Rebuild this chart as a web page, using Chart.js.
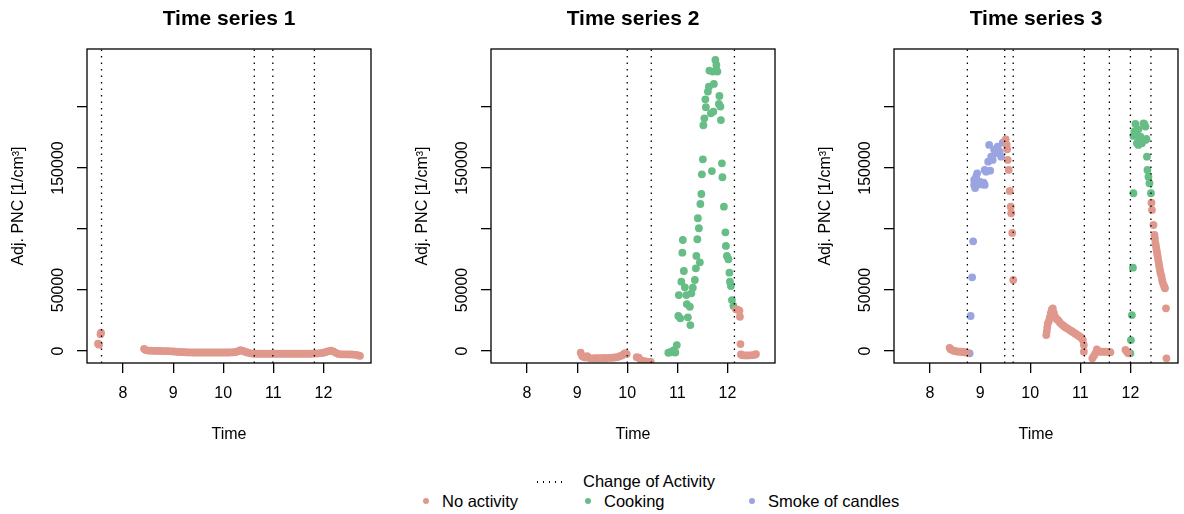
<!DOCTYPE html>
<html>
<head>
<meta charset="utf-8">
<script src="https://cdn.jsdelivr.net/npm/chart.js@4.4.1/dist/chart.umd.min.js"></script>
<style>
  html, body { margin: 0; padding: 0; background: #fff; overflow: hidden; }
  body { width: 1184px; height: 514px; position: relative; font-family: "Liberation Sans", Arial, sans-serif; }
  canvas { position: absolute; top: 0; }
  .leg { position: absolute; font-size: 16.5px; line-height: 20px; color: #000; white-space: nowrap; }
  .dot { position: absolute; width: 6px; height: 6px; border-radius: 50%; }
  .dots { position: absolute; height: 1.5px; width: 30px;
          background: repeating-linear-gradient(to right, #000 0 1.5px, transparent 1.5px 6px); }
</style>
</head>
<body>
<canvas id="p1" width="377" height="450" style="left:0px"></canvas>
<canvas id="p2" width="377" height="450" style="left:404px"></canvas>
<canvas id="p3" width="377" height="450" style="left:807px"></canvas>
<div id="legend"></div>
<script>
// categories and colours
const categories = ['No activity', 'Cooking', 'Smoke of candles'];
const catColors = ['#E0988D', '#66BD86', '#9AA4E0'];
const panelTitles = ['Time series 1', 'Time series 2', 'Time series 3'];

// axis ranges / ticks
const X_MIN = 7.28, X_MAX = 12.95;
const Y_MIN = -9800, Y_MAX = 247500;
const xTicks = [8, 9, 10, 11, 12];
const yTicks = [0, 50000, 100000, 150000, 200000];
const yTickLabels = ['0', '50000', '', '150000', ''];

// times where the activity changes (dotted lines)
const changes1 = [7.57, 10.62, 10.99, 11.82];
const changes2 = [10.0, 10.48, 12.14];
const changes3 = [8.745, 9.49, 9.66, 11.08, 11.58, 12.0, 12.41];

// Time series 1 : [time (h), adj. PNC]
const ts1None = [
  [7.50, 6000], [7.52, 5200], [7.55, 13800], [7.56, 15000],
  [8.42, 1800], [8.45, 800], [8.50, 400], [8.55, 300], [8.60, 200], [8.65, 200], [8.70, 100],
  [8.75, 100], [8.80, 0], [8.85, 0], [8.90, -100], [8.95, -200], [9.00, -300], [9.05, -500],
  [9.10, -700], [9.15, -800], [9.20, -900], [9.25, -1000], [9.30, -1100], [9.35, -1100],
  [9.40, -1200], [9.45, -1200], [9.50, -1200], [9.55, -1200], [9.60, -1200], [9.65, -1200],
  [9.70, -1200], [9.75, -1200], [9.80, -1200], [9.85, -1200], [9.90, -1200], [9.95, -1200],
  [10.00, -1200], [10.05, -1200], [10.10, -1200], [10.15, -1100], [10.20, -1000], [10.25, -800],
  [10.30, -100], [10.34, 700], [10.38, 300], [10.42, -300], [10.46, -900], [10.50, -1400],
  [10.55, -1900], [10.60, -2300], [10.65, -2200], [10.70, -2200], [10.75, -2200], [10.80, -2200],
  [10.85, -2200], [10.90, -2200], [10.95, -2200], [11.00, -2200], [11.05, -2200], [11.10, -2200],
  [11.15, -2200], [11.20, -2200], [11.25, -2200], [11.30, -2200], [11.35, -2200], [11.40, -2200],
  [11.45, -2200], [11.50, -2200], [11.55, -2200], [11.60, -2200], [11.65, -2200], [11.70, -2200],
  [11.75, -2200], [11.80, -2100], [11.85, -2000], [11.90, -1900], [11.95, -1700], [12.00, -1400],
  [12.05, -800], [12.10, -100], [12.15, 300], [12.20, -300], [12.25, -1500], [12.30, -2400],
  [12.35, -2700], [12.40, -2700], [12.45, -2700], [12.50, -2800], [12.55, -2800], [12.60, -2900],
  [12.65, -3100], [12.70, -3600], [12.73, -3900]
];

// Time series 2
const ts2None = [
  [9.07, -1400], [9.10, -4000], [9.13, -4800], [9.17, -5200], [9.20, -4200], [9.25, -5800],
  [9.30, -6000], [9.35, -5900], [9.40, -5900], [9.45, -5800], [9.50, -5800], [9.55, -5700],
  [9.60, -5800], [9.65, -5600], [9.70, -5500], [9.75, -5300], [9.80, -5000], [9.85, -4200],
  [9.90, -3500], [9.93, -2500], [9.96, -1800], [9.99, -2500],
  [10.19, -5000], [10.23, -5500], [10.27, -7500], [10.32, -8000], [10.37, -8500], [10.42, -8800],
  [10.47, -9000],
  [12.17, 34200], [12.20, 34000], [12.24, 33000], [12.25, 28100], [12.26, 5700], [12.27, -2800],
  [12.30, -3400], [12.35, -3600], [12.40, -3600], [12.45, -3500], [12.50, -3400], [12.55, -3000],
  [12.57, -2500]
];
const ts2Cook = [
  [10.82, -1400], [10.86, -1000], [10.89, -600], [10.93, 800], [10.96, -1200], [10.99, 4900],
  [11.02, 28700], [11.03, 45900], [11.06, 26800], [11.08, 56800], [11.10, 80600], [11.11, 91000],
  [11.13, 65600], [11.15, 52200], [11.18, 45900], [11.19, 38500], [11.21, 27600], [11.25, 36300],
  [11.26, 21300], [11.28, 47300], [11.31, 51900], [11.35, 58200], [11.37, 67800], [11.38, 77900],
  [11.40, 91600], [11.41, 108800], [11.43, 100600], [11.45, 72700], [11.46, 120500], [11.48, 128700],
  [11.49, 144800], [11.51, 157100], [11.52, 185000], [11.54, 190700], [11.56, 206300], [11.57, 199800],
  [11.61, 212600], [11.63, 216600], [11.64, 229800], [11.67, 194800], [11.69, 147500], [11.71, 229000],
  [11.72, 196200], [11.73, 218900], [11.76, 238500], [11.78, 234400], [11.78, 230300], [11.80, 229000],
  [11.83, 202500], [11.84, 209000], [11.86, 200300], [11.87, 189300], [11.89, 153800], [11.90, 142400],
  [11.93, 118300], [11.96, 97300], [11.97, 86100], [11.99, 77900], [12.02, 75200], [12.04, 64200],
  [12.05, 56800], [12.07, 53300], [12.09, 41800], [12.12, 36900]
];

// Time series 3
const ts3None = [
  [8.39, 2600], [8.41, 1500], [8.44, 800], [8.47, 300], [8.50, 0], [8.54, -300], [8.58, -500],
  [8.62, -600], [8.66, -800], [8.70, -1000], [8.74, -1300],
  [9.51, 173500], [9.53, 169000], [9.54, 165300], [9.55, 156600], [9.57, 148400], [9.59, 131200],
  [9.61, 118300], [9.62, 112900], [9.64, 96800], [9.66, 58200],
  [10.32, 13100], [10.33, 16000], [10.34, 19500], [10.35, 22500], [10.37, 24500], [10.39, 27500],
  [10.41, 31000], [10.43, 34000], [10.45, 35000], [10.47, 31500], [10.49, 28500], [10.52, 26500],
  [10.55, 25500], [10.58, 24000], [10.61, 22500], [10.64, 21500], [10.67, 20500], [10.70, 19500],
  [10.73, 18800], [10.76, 18000], [10.79, 17200], [10.82, 16500], [10.85, 15700], [10.88, 14800],
  [10.91, 14000], [10.94, 13200], [10.97, 12400], [11.00, 11600], [11.03, 10500], [11.05, 9000],
  [11.07, 4900], [11.07, -600],
  [11.24, -6000], [11.27, -4000], [11.30, -1900], [11.33, 1400], [11.36, -300], [11.40, -600],
  [11.45, -600], [11.50, -600], [11.55, -700], [11.60, -900],
  [11.90, 1000], [11.93, -500], [11.96, -1900],
  [12.42, 121600], [12.43, 115600], [12.46, 103300], [12.48, 95100], [12.49, 92000], [12.50, 88500],
  [12.51, 86000], [12.52, 83500], [12.53, 81000], [12.54, 78500], [12.55, 76000], [12.56, 73500],
  [12.57, 71000], [12.58, 68500], [12.59, 66500], [12.60, 64000], [12.62, 61500], [12.63, 59000],
  [12.64, 56800], [12.66, 54500], [12.68, 52500], [12.69, 51400], [12.71, 35000], [12.72, -6000]
];
const ts3Cook = [
  [12.00, -1900], [12.01, 9000], [12.03, 29500], [12.05, 68300], [12.06, 129300], [12.06, 176300],
  [12.08, 180000], [12.10, 186100], [12.11, 178000], [12.13, 170300], [12.16, 168900], [12.16, 181700],
  [12.18, 174000], [12.20, 175700], [12.23, 170300], [12.26, 186600], [12.28, 186000], [12.30, 183900],
  [12.30, 173000], [12.32, 173800], [12.33, 159300], [12.34, 148400], [12.36, 142900], [12.38, 137500],
  [12.41, 129300]
];
const ts3Candle = [
  [8.79, -1900], [8.81, 28700], [8.84, 60400], [8.86, 89900], [8.88, 136100], [8.88, 140200],
  [8.90, 133500], [8.92, 142900], [8.94, 145600], [8.96, 137000], [8.99, 138800], [9.02, 136500],
  [9.04, 137400], [9.07, 138000], [9.09, 136100], [9.09, 148400], [9.12, 147000], [9.16, 155200],
  [9.18, 168900], [9.20, 147800], [9.22, 159300], [9.25, 156600], [9.28, 165000], [9.32, 162100],
  [9.35, 167500], [9.39, 163400], [9.42, 159300], [9.45, 170700]
];

const FONT = "'Liberation Sans', Arial, sans-serif";

// dessine le cadre et le titre du panneau
const panelPlugin = {
  id: 'panel',
  afterDraw(chart, args, opts) {
    const { ctx, chartArea: a } = chart;
    ctx.save();
    ctx.strokeStyle = '#000';
    ctx.lineWidth = 1.3;
    ctx.strokeRect(a.left, a.top, a.right - a.left, a.bottom - a.top);
    ctx.fillStyle = '#000';
    ctx.font = 'bold 21px ' + FONT;
    ctx.textAlign = 'center';
    ctx.textBaseline = 'middle';
    ctx.fillText(opts.text, (a.left + a.right) / 2, 19);
    ctx.restore();
  }
};

function toPoints(arr) {
  return arr.map(p => ({ x: p[0], y: p[1] }));
}

function makePanel(id, title, series, changes) {
  const datasets = [];
  changes.forEach(t => {
    datasets.push({
      data: [{ x: t, y: Y_MIN }, { x: t, y: Y_MAX }],
      showLine: true,
      borderColor: '#000',
      borderWidth: 1.3,
      borderDash: [1.6, 4.9],
      pointRadius: 0,
      order: 0
    });
  });
  series.forEach(s => {
    datasets.push({
      data: toPoints(s.data),
      pointRadius: 3.9,
      pointBorderWidth: 0,
      backgroundColor: catColors[s.cat],
      borderColor: catColors[s.cat],
      order: 1
    });
  });

  new Chart(document.getElementById(id), {
    type: 'scatter',
    data: { datasets },
    plugins: [panelPlugin],
    options: {
      responsive: false,
      animation: false,
      devicePixelRatio: 1,
      layout: { padding: { top: 49, right: 6, bottom: 0, left: 0 } },
      plugins: {
        legend: { display: false },
        tooltip: { enabled: false },
        panel: { text: title }
      },
      scales: {
        x: {
          type: 'linear',
          min: X_MIN,
          max: X_MAX,
          afterFit: s => { s.height = 87; },
          afterBuildTicks: s => { s.ticks = xTicks.map(v => ({ value: v })); },
          border: { display: false },
          grid: { drawOnChartArea: false, drawTicks: true, tickLength: 10, color: '#000', lineWidth: 1.3 },
          ticks: { color: '#000', padding: 11, maxRotation: 0, font: { family: FONT, size: 16 } },
          title: { display: true, text: 'Time', color: '#000', padding: { top: 0, bottom: 6 },
                   font: { family: FONT, size: 16 } }
        },
        y: {
          type: 'linear',
          min: Y_MIN,
          max: Y_MAX,
          afterFit: s => { s.width = 87; },
          afterBuildTicks: s => { s.ticks = yTicks.map(v => ({ value: v })); },
          border: { display: false },
          grid: { drawOnChartArea: false, drawTicks: true, tickLength: 10, color: '#000', lineWidth: 1.3 },
          ticks: {
            color: '#000', padding: -8, minRotation: 90, maxRotation: 90, crossAlign: 'center',
            font: { family: FONT, size: 16 },
            callback: v => yTickLabels[yTicks.indexOf(v)]
          },
          title: { display: true, text: 'Adj. PNC [1/cm³]', color: '#000', padding: { top: 9, bottom: 0 },
                   font: { family: FONT, size: 16 } }
        }
      }
    }
  });
}

makePanel('p1', panelTitles[0], [{ cat: 0, data: ts1None }], changes1);
makePanel('p2', panelTitles[1], [{ cat: 0, data: ts2None }, { cat: 1, data: ts2Cook }], changes2);
makePanel('p3', panelTitles[2], [{ cat: 0, data: ts3None }, { cat: 1, data: ts3Cook }, { cat: 2, data: ts3Candle }], changes3);

// légende du bas
const legend = document.getElementById('legend');
const legX = [426, 588, 752];
let html = '<div class="dots" style="left:537px;top:481px"></div>' +
           '<div class="leg" style="left:583px;top:471px">Change of Activity</div>';
categories.forEach((c, i) => {
  html += '<div class="dot" style="left:' + (legX[i] - 3) + 'px;top:498px;background:' + catColors[i] + '"></div>' +
          '<div class="leg" style="left:' + (legX[i] + 16) + 'px;top:491px">' + c + '</div>';
});
legend.innerHTML = html;
</script>
</body>
</html>
